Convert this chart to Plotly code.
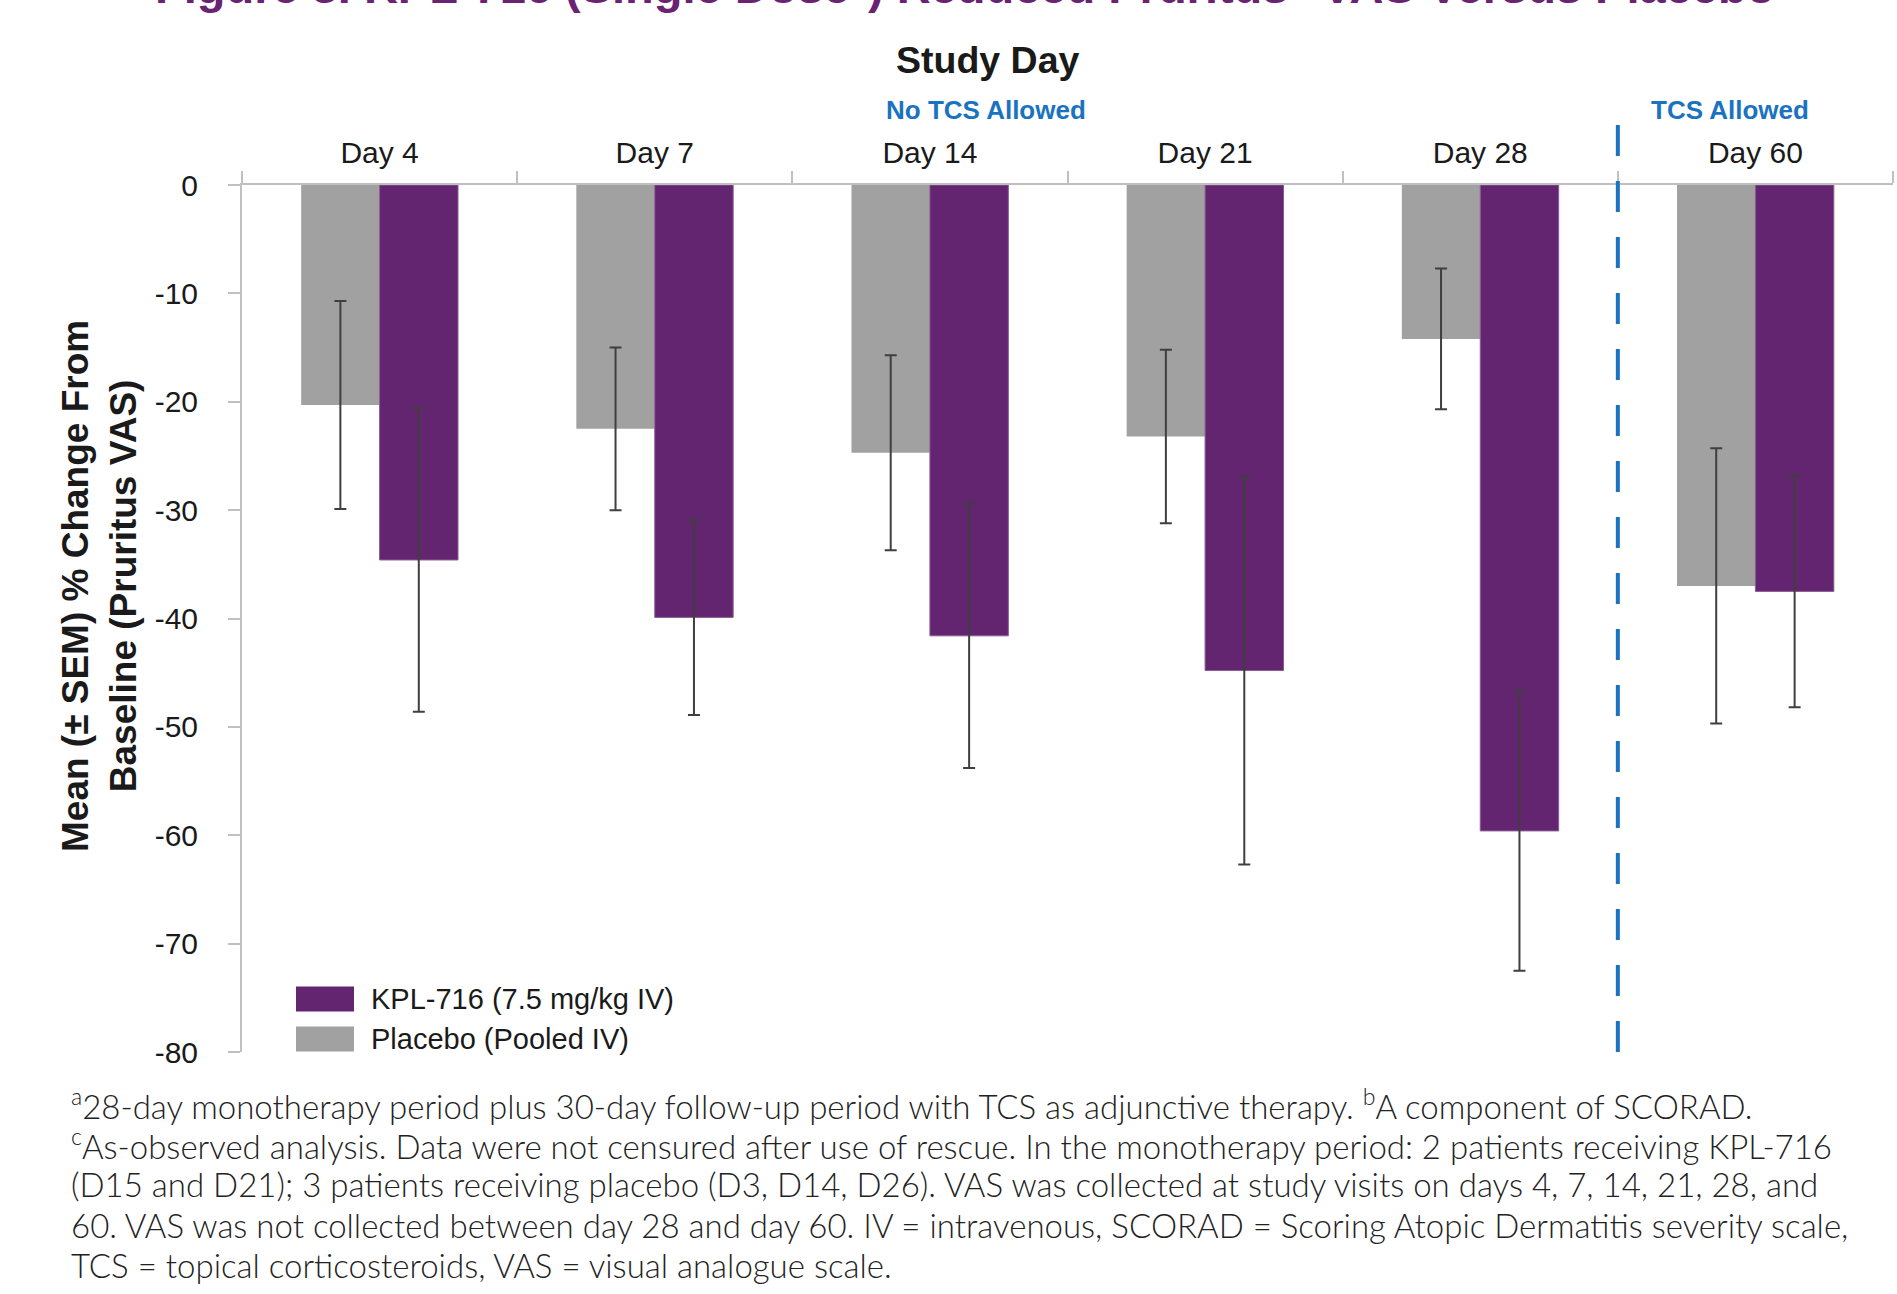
import plotly.graph_objects as go

# Study visits and mean % change from baseline in pruritus VAS (± SEM)
days = ["Day 4", "Day 7", "Day 14", "Day 21", "Day 28", "Day 60"]
placebo_mean = [-20.3, -22.5, -24.7, -23.2, -14.2, -37.0]
placebo_sem = [9.6, 7.5, 9.0, 8.0, 6.5, 12.7]
kpl_mean = [-34.6, -39.9, -41.6, -44.8, -59.6, -37.5]
kpl_sem = [14.0, 9.0, 12.2, 17.9, 12.9, 10.7]

placebo_name = "Placebo (Pooled IV)"
kpl_name = "KPL-716 (7.5 mg/kg IV)"
y_ticks = [0, -10, -20, -30, -40, -50, -60, -70, -80]
y_tick_text = ["0", "-10", "-20", "-30", "-40", "-50", "-60", "-70", "-80"]

PURPLE = "#632570"
GRAY = "#a1a1a1"
BLUE = "#1a73c0"
AXIS = "#c0c0c0"
TEXT = "#1a1a1a"
FONT = "Liberation Sans, Arial, sans-serif"

W, H = 1897, 1294
ML, MR, MT, MB = 242, 4, 185, 242
PH = H - MT - MB
PW = W - ML - MR


def py(pix):
    """Convert a pixel row on the page to paper y."""
    return (H - MB - pix) / PH


def px(pix):
    """Convert a pixel column on the page to paper x."""
    return (pix - ML) / PW


fig = go.Figure()
fig.add_trace(go.Bar(
    x=days, y=placebo_mean, name=placebo_name,
    marker=dict(color=GRAY, line=dict(width=0)),
    error_y=dict(type="data", array=placebo_sem, color="#3f3f3f",
                 thickness=2, width=6),
    showlegend=False,
))
fig.add_trace(go.Bar(
    x=days, y=kpl_mean, name=kpl_name,
    marker=dict(color=PURPLE, line=dict(color="#8a5c94", width=1)),
    error_y=dict(type="data", array=kpl_sem, color="#3f3f3f",
                 thickness=2, width=6),
    showlegend=False,
))

# Divider between the monotherapy period and the TCS-allowed follow-up
fig.add_shape(type="line", xref="x", yref="paper",
              x0=4.5, x1=4.5, y0=py(125), y1=0,
              line=dict(color=BLUE, width=4, dash="31px,25px"))

annotations = [
    dict(text="<b>Study Day</b>", x=988, y=60, size=37.5, color=TEXT),
    dict(text="<b>No TCS Allowed</b>", x=986, y=110, size=26, color=BLUE),
    dict(text="<b>TCS Allowed</b>", x=1730, y=110, size=26, color=BLUE),
]
for a in annotations:
    fig.add_annotation(text=a["text"], xref="paper", yref="paper",
                       x=px(a["x"]), y=py(a["y"]),
                       xanchor="center", yanchor="middle", showarrow=False,
                       font=dict(family=FONT, size=a["size"], color=a["color"]))

# Figure title (top edge of the page)
fig.add_annotation(
    text="<b>Figure 3. KPL-716 (Single Dose<sup>a</sup>) Reduced Pruritus<sup>b</sup> "
         "VAS Versus Placebo<sup>c</sup></b>",
    xref="paper", yref="paper", x=px(974), y=py(15),
    xanchor="center", yanchor="bottom", showarrow=False,
    font=dict(family=FONT, size=47, color="#6a2373"))

# Y-axis title
fig.add_annotation(
    text="<b>Mean (± SEM) % Change From<br>Baseline (Pruritus VAS)</b>",
    xref="paper", yref="paper", x=px(99), y=py(586),
    xanchor="center", yanchor="middle", textangle=-90, showarrow=False,
    font=dict(family=FONT, size=37, color=TEXT))

# Legend swatches and labels
legend_items = [(kpl_name, PURPLE, 999), (placebo_name, GRAY, 1039)]
for name, color, cy in legend_items:
    fig.add_shape(type="rect", xref="paper", yref="paper",
                  x0=px(296), x1=px(354),
                  y0=py(cy + 12.5), y1=py(cy - 12.5),
                  line=dict(width=0), fillcolor=color)
    fig.add_annotation(text=name, xref="paper", yref="paper",
                       x=px(369), y=py(cy),
                       xanchor="left", yanchor="middle", showarrow=False,
                       font=dict(family=FONT, size=29, color=TEXT))

# Footnotes
footnotes = [
    "<sup>a</sup>28-day monotherapy period plus 30-day follow-up period with TCS as adjunctive therapy. "
    "<sup>b</sup>A component of SCORAD.",
    "<sup>c</sup>As-observed analysis. Data were not censured after use of rescue. In the monotherapy "
    "period: 2 patients receiving KPL-716",
    "(D15 and D21); 3 patients receiving placebo (D3, D14, D26). VAS was collected at study visits on "
    "days 4, 7, 14, 21, 28, and",
    "60. VAS was not collected between day 28 and day 60. IV = intravenous, SCORAD = Scoring Atopic "
    "Dermatitis severity scale,",
    "TCS = topical corticosteroids, VAS = visual analogue scale.",
]
foot_rows = [1104, 1144, 1184, 1225, 1265]
for line, row in zip(footnotes, foot_rows):
    fig.add_annotation(text=line, xref="paper", yref="paper",
                       x=px(69), y=py(row),
                       xanchor="left", yanchor="middle", showarrow=False,
                       font=dict(family="Lato, sans-serif", size=33, weight=300,
                                 color="#222222"))

fig.update_layout(
    width=W, height=H,
    margin=dict(l=ML, r=MR, t=MT, b=MB),
    paper_bgcolor="white", plot_bgcolor="white",
    barmode="group", bargap=0.43, bargroupgap=0,
    showlegend=False,
    font=dict(family=FONT, color=TEXT),
)
fig.update_xaxes(
    type="category", side="top", range=[-0.5, 5.5],
    showline=True, linecolor=AXIS, linewidth=2,
    ticks="outside", tickson="boundaries", ticklen=12,
    tickcolor=AXIS, tickwidth=1.5,
    tickfont=dict(family=FONT, size=30, color=TEXT),
    ticklabelstandoff=8, showgrid=False, zeroline=False,
)
fig.update_yaxes(
    range=[-80, 0], tickvals=y_ticks, ticktext=y_tick_text,
    showline=True, linecolor=AXIS, linewidth=2,
    ticks="outside", ticklen=12, tickcolor=AXIS, tickwidth=1.5,
    tickfont=dict(family=FONT, size=30, color=TEXT),
    ticklabelstandoff=24, showgrid=False, zeroline=False,
)

fig.write_html("out.html")
